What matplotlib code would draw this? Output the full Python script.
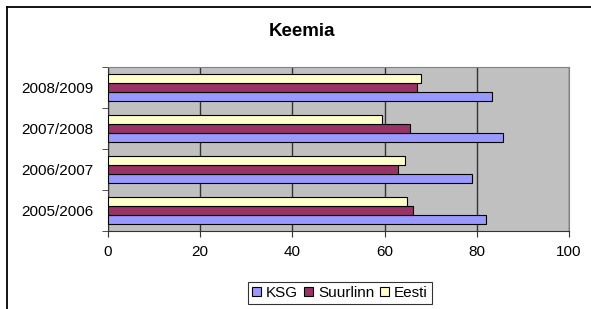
import numpy as np
import matplotlib
matplotlib.use("Agg")
import matplotlib.pyplot as plt
from matplotlib.lines import Line2D

plt.rcParams['font.family'] = ['Liberation Sans', 'DejaVu Sans']

# data
years = ['2005/2006', '2006/2007', '2007/2008', '2008/2009']
ksg = [82.1, 78.9, 85.6, 83.3]
suurlinn = [66.2, 62.8, 65.5, 67.1]
eesti = [64.9, 64.5, 59.5, 67.9]
series_names = ['KSG', 'Suurlinn', 'Eesti']
colors = ['#9999FF', '#993366', '#FFFFCC']

fig = plt.figure(figsize=(5.91, 3.09), dpi=100)
ax = fig.add_axes([108/591, 1-231/309, 461/591, 164/309])

y = np.arange(len(years))
h = 0.22
for k, (vals, name, col) in enumerate(zip([ksg, suurlinn, eesti], series_names, colors)):
    ax.barh(y + (k-1)*h, vals, height=h, color=col, edgecolor='black', linewidth=0.8,
            label=name, zorder=3)

ax.set_facecolor('#C0C0C0')
ax.set_xlim(0, 100)
ax.set_ylim(-0.5, len(years)-0.5)
ax.set_xticks([0, 20, 40, 60, 80, 100])
ax.xaxis.grid(True, color='#333333', linewidth=1.0, zorder=1)
ax.set_axisbelow(True)

ax.set_yticks(y)
ax.set_yticklabels(years)
ax.set_yticks(np.arange(-0.5, len(years)), minor=True)
ax.tick_params(axis='y', which='major', length=0, pad=10.5, labelsize=11)
ax.tick_params(axis='y', which='minor', length=4, color='#333333', direction='out')
ax.tick_params(axis='x', length=4, color='#333333', direction='out', labelsize=11, pad=6)

for s in ['top', 'right']:
    ax.spines[s].set_color('#808080')
for s in ['left', 'bottom']:
    ax.spines[s].set_color('#333333')

fig.text(302/591, 1-31/309, 'Keemia', ha='center', va='center', fontsize=13.5, fontweight='bold')

leg = fig.legend(loc='center', bbox_to_anchor=(340/591, 1-293/309), ncol=3, frameon=True,
                 fontsize=11, handlelength=0.6, handleheight=0.6, handletextpad=0.3,
                 columnspacing=0.4, borderpad=0.25, fancybox=False)
leg.get_frame().set_edgecolor('black')
leg.get_frame().set_linewidth(0.8)

# outer chart border (left and top only visible)
fig.add_artist(Line2D([6.5/591, 6.5/591], [0, 1-7/309], color='black', linewidth=1.3,
                      transform=fig.transFigure))
fig.add_artist(Line2D([6.5/591, 1], [1-7/309, 1-7/309], color='black', linewidth=1.3,
                      transform=fig.transFigure))

fig.savefig('out.png', dpi=100)
